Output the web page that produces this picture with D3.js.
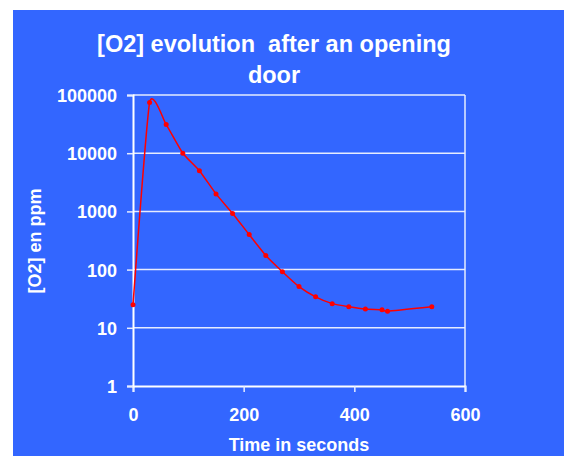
<!DOCTYPE html>
<html>
<head>
<meta charset="utf-8">
<script src="https://cdn.jsdelivr.net/npm/d3@7"></script>
<style>
  html, body { margin: 0; padding: 0; background: #fff; }
  svg { display: block; }
  text { font-family: "Liberation Sans", Arial, sans-serif; font-weight: bold; fill: #fff; }
</style>
</head>
<body>
<script>
// time (s) and O2 concentration (ppm)
const times = [0, 30, 60, 90, 120, 150, 180, 210, 240, 270, 300, 330, 360, 390, 420, 450, 460, 540];
const o2ppm = [25, 74000, 31000, 10000, 5000, 2000, 920, 400, 175, 92, 51, 34, 26, 23, 21, 20.5, 19.3, 23];
const xTicks = [0, 200, 400, 600];
const yTicks = [1, 10, 100, 1000, 10000, 100000];

const W = 564, H = 456;
const margin = { left: 133, right: 99, top: 95, bottom: 70 };

const svg = d3.select("body").append("svg")
    .attr("width", W)
    .attr("height", H);

// blue panel
svg.append("rect")
    .attr("x", 13).attr("y", 10)
    .attr("width", W - 13).attr("height", H - 10)
    .attr("fill", "#3366ff");

const x = d3.scaleLinear().domain([0, 600]).range([margin.left, W - margin.right]);
const y = d3.scaleLog().domain([1, 100000]).range([H - margin.bottom, margin.top]);

// grid lines
svg.append("g").selectAll("line")
    .data(yTicks.slice(1))
  .enter().append("line")
    .attr("x1", x(0)).attr("x2", x(600))
    .attr("y1", d => y(d)).attr("y2", d => y(d))
    .attr("stroke", "#e6ecff")
    .attr("stroke-width", 1.5);

// right frame
svg.append("line")
    .attr("x1", x(600)).attr("x2", x(600))
    .attr("y1", y(100000)).attr("y2", y(1))
    .attr("stroke", "#e6ecff")
    .attr("stroke-width", 1.5);

// axes
const xAxis = svg.append("g")
    .attr("transform", `translate(0,${y(1)})`)
    .call(d3.axisBottom(x).tickValues(xTicks).tickSize(6).tickFormat(d3.format("d")));
const yAxis = svg.append("g")
    .attr("transform", `translate(${x(0)},0)`)
    .call(d3.axisLeft(y).tickValues(yTicks).tickSize(6).tickPadding(10).tickFormat(d3.format("d")));

[xAxis, yAxis].forEach(a => {
  a.selectAll(".domain").attr("stroke", "#fff").attr("stroke-width", 2);
  a.selectAll(".tick line").attr("stroke", "#e6ecff").attr("stroke-width", 1.5);
  a.selectAll("text").attr("font-size", 18).attr("fill", "#fff")
    .style("font-family", "'Liberation Sans', Arial, sans-serif").style("font-weight", "bold");
});
xAxis.selectAll("text").attr("y", 35).attr("dy", 0);
yAxis.selectAll("text").attr("dy", "0.36em");

// data line, smoothed like the spreadsheet
const pts = times.map((t, i) => [t, o2ppm[i]]);
const line = d3.line()
    .x(d => x(d[0]))
    .y(d => y(d[1]))
    .curve(d3.curveCardinal.tension(0.5));

svg.append("path")
    .datum(pts)
    .attr("fill", "none")
    .attr("stroke", "#ff0000")
    .attr("stroke-width", 1.5)
    .attr("d", line);

svg.append("g").selectAll("circle")
    .data(pts)
  .enter().append("circle")
    .attr("cx", d => x(d[0]))
    .attr("cy", d => y(d[1]))
    .attr("r", 2.5)
    .attr("fill", "#ff0000");

// titles
svg.append("text")
    .attr("x", 274).attr("y", 52)
    .attr("text-anchor", "middle")
    .attr("font-size", 23.5)
    .attr("xml:space", "preserve")
    .text("[O2] evolution  after an opening");
svg.append("text")
    .attr("x", 274).attr("y", 83)
    .attr("text-anchor", "middle")
    .attr("font-size", 23.5)
    .text("door");

svg.append("text")
    .attr("x", 299).attr("y", 451)
    .attr("text-anchor", "middle")
    .attr("font-size", 18)
    .text("Time in seconds");

svg.append("text")
    .attr("transform", "translate(41,241) rotate(-90)")
    .attr("text-anchor", "middle")
    .attr("font-size", 18)
    .text("[O2] en ppm");
</script>
</body>
</html>
